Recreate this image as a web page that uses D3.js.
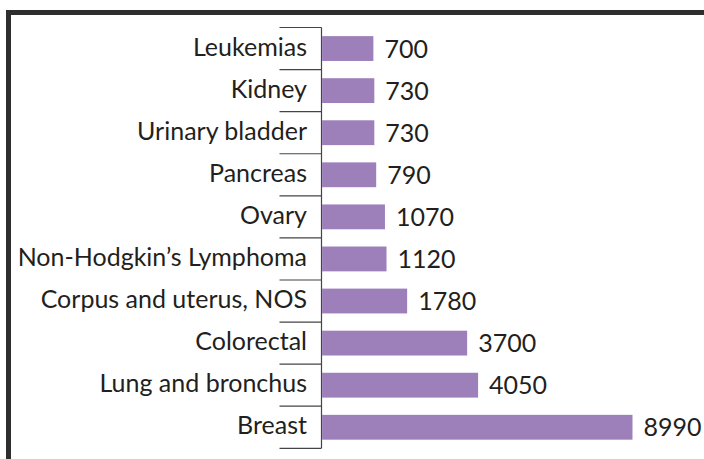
<!DOCTYPE html>
<html lang="en">
<head>
  <meta charset="UTF-8">
  <title>Cancer deaths by site</title>
  <style>
    body { margin: 0; background: #fff; }
    svg { display: block; font-family: Lato, "Open Sans", sans-serif; }
  </style>
</head>
<body>
  <div id="chart"></div>

  <script src="https://d3js.org/d3.v7.min.js"></script>
  <script>

    const sites = ["Leukemias", "Kidney", "Urinary bladder", "Pancreas", "Ovary",
                   "Non-Hodgkin\u2019s Lymphoma", "Corpus and uterus, NOS",
                   "Colorectal", "Lung and bronchus", "Breast"];
    const counts = [700, 730, 730, 790, 1070, 1120, 1780, 3700, 4050, 8990];

    const width = 704,
          height = 459,
          margin = {top: 27.5, right: 20, bottom: 10.7, left: 321.5};

    const svg = d3.select("#chart")
      .append("svg")
      .attr("width", width)
      .attr("height", height)
      .attr("viewBox", [0, 0, width, height]);

    // frame: heavy rule on top and left only
    svg.append("rect").attr("x", 6).attr("y", 10).attr("width", width - 6).attr("height", 5).attr("fill", "#2e2e2e");
    svg.append("rect").attr("x", 6).attr("y", 10).attr("width", 5).attr("height", height - 10).attr("fill", "#2e2e2e");

    let y = d3.scaleBand(sites, [margin.top, height - margin.bottom])
      .paddingInner(0.41)
      .paddingOuter(0.205);

    // the bars in the source are not drawn to scale, short ones get a stub;
    // start the scale a little past the axis to follow it
    let x = d3.scaleLinear([0, 9000], [margin.left + 30, margin.left + 311.3]);

    const step = y.step();
    const boundaries = d3.range(sites.length + 1).map(i => margin.top + i * step);

    // tick lines between categories
    svg.append("g")
      .selectAll("line")
      .data(boundaries)
      .join("line")
      .attr("x1", margin.left - 42)
      .attr("x2", margin.left)
      .attr("y1", d => d)
      .attr("y2", d => d)
      .attr("stroke", "#444")
      .attr("stroke-width", 1.2);

    svg.append("line")
      .attr("x1", margin.left)
      .attr("x2", margin.left)
      .attr("y1", boundaries[0])
      .attr("y2", boundaries[boundaries.length - 1])
      .attr("stroke", "#444")
      .attr("stroke-width", 1.2);

    svg.append("g")
      .attr("fill", "#9d7fba")
      .selectAll("rect")
      .data(counts)
      .join("rect")
      .attr("x", margin.left + 0.6)
      .attr("y", (d, i) => y(sites[i]))
      .attr("width", d => x(d) - margin.left - 0.6)
      .attr("height", y.bandwidth());

    svg.append("g")
      .attr("font-size", 25)
      .attr("fill", "#231f20")
      .attr("text-anchor", "end")
      .selectAll("text")
      .data(sites)
      .join("text")
      .attr("x", margin.left - 14.5)
      .attr("y", d => y(d) + y.bandwidth() / 2 - 2)
      .attr("dy", "0.36em")
      .text(d => d);

    svg.append("g")
      .attr("font-size", 25)
      .attr("fill", "#231f20")
      .selectAll("text")
      .data(counts)
      .join("text")
      .attr("x", d => x(d) + 11)
      .attr("y", (d, i) => y(sites[i]) + y.bandwidth() / 2)
      .attr("dy", "0.36em")
      .text(d => d);

  </script>
</body>
</html>
